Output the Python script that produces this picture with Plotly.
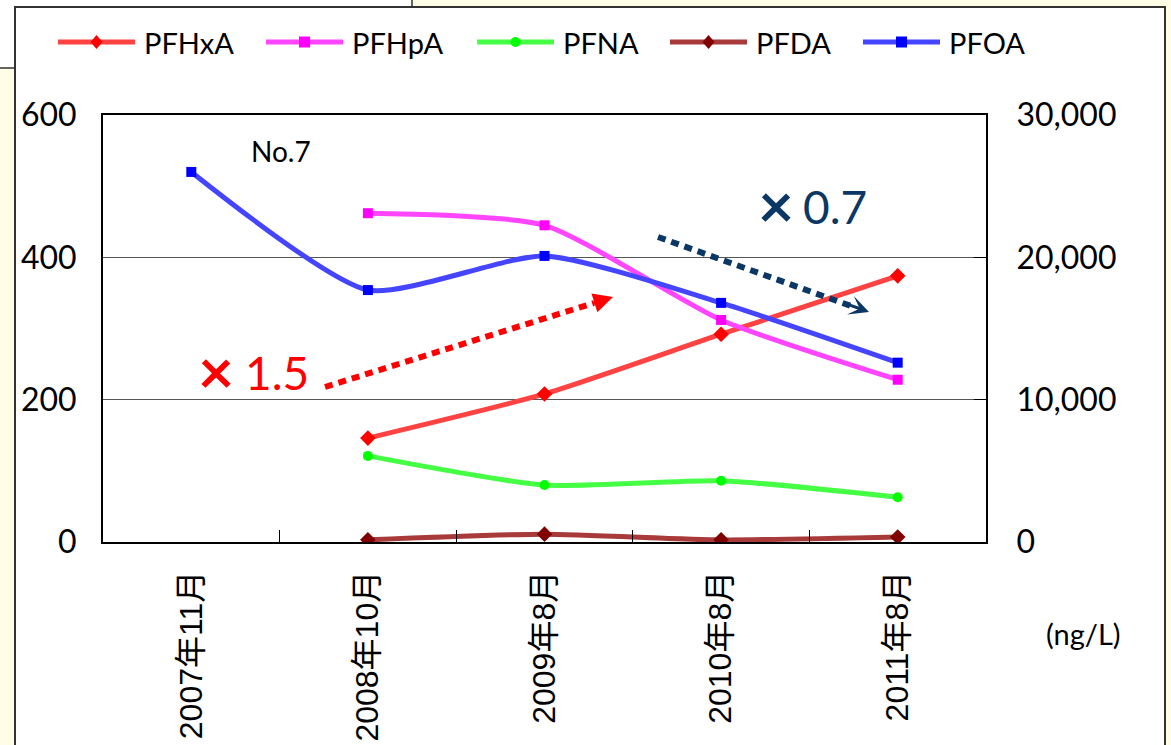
import plotly.graph_objects as go

# ---- data ----
categories = ["2007年11月", "2008年10月", "2009年8月", "2010年8月", "2011年8月"]
pfhxa = [None, 146, 208, 292, 374]
pfhpa = [None, 462, 445, 312, 228]
pfna = [None, 121, 80, 86, 63]
pfda = [None, 3, 11, 3, 7]
pfoa = [26000, 17700, 20100, 16800, 12600]
left_ticks = [0, 200, 400, 600]
right_ticks = [0, 10000, 20000, 30000]

# plot area in pixels (for paper-coordinate helpers)
L, R, T, B = 103, 986, 115, 542
W, H = 1171, 745


def px(x):
    return (x - L) / (R - L)


def py(y):
    return (B - y) / (B - T)


FONT = "Lato, 'Noto Sans CJK JP', sans-serif"
XFONT = "'Liberation Sans', Arial, 'Noto Sans CJK JP', sans-serif"

series = [
    ("PFHxA", pfhxa, "#FF4242", "#FF0000", "diamond", 12, "y"),
    ("PFHpA", pfhpa, "#FF45FF", "#FF00FF", "square", 10, "y"),
    ("PFNA", pfna, "#45FF45", "#00FF00", "circle", 10, "y"),
    ("PFDA", pfda, "#A83A3A", "#800000", "diamond", 12, "y"),
    ("PFOA", pfoa, "#4545FF", "#0000FF", "square", 10, "y2"),
]
legend_x = [58, 266, 477, 670, 863]   # left edge of each legend entry (px)
LEG_Y = 42

fig = go.Figure()
for name, vals, lc, mc, sym, ms, ax in series:
    fig.add_trace(go.Scatter(
        x=categories, y=vals, name=name, yaxis=ax,
        mode="lines+markers",
        line=dict(color=lc, width=5, shape="spline", smoothing=0.6),
        marker=dict(color=mc, symbol=sym, size=ms, line=dict(width=0)),
        connectgaps=False, showlegend=False,
    ))

shapes = [
    # background box at top-left (partially hidden)
    dict(type="rect", xref="paper", yref="paper", layer="below",
         x0=px(-10), x1=px(412), y0=py(68), y1=py(-10),
         fillcolor="white", line=dict(color="#333333", width=1.5)),
    # chart frame
    dict(type="rect", xref="paper", yref="paper", layer="below",
         x0=px(15), x1=px(1165), y0=py(770), y1=py(7),
         fillcolor="white", line=dict(color="#333333", width=2)),
    # red dotted trend arrow
    dict(type="line", xref="paper", yref="paper",
         x0=px(325), y0=py(387), x1=px(594), y1=py(303),
         line=dict(color="#FF0000", width=6, dash="8px,6px")),
    # navy dotted trend arrow
    dict(type="line", xref="paper", yref="paper",
         x0=px(658), y0=py(237), x1=px(851), y1=py(306),
         line=dict(color="#0B3765", width=6, dash="8px,6px")),
]

annotations = []

# ---- hand-drawn legend (long line samples like the original) ----
for (name, vals, lc, mc, sym, ms, ax), lx in zip(series, legend_x):
    cx = lx + 38.5
    shapes.append(dict(type="line", xref="paper", yref="paper",
                       x0=px(lx), x1=px(lx + 77), y0=py(LEG_Y), y1=py(LEG_Y),
                       line=dict(color=lc, width=5)))
    if sym == "diamond":
        path = "M {},{} L {},{} L {},{} L {},{} Z".format(
            px(cx), py(LEG_Y - 7), px(cx + 6), py(LEG_Y),
            px(cx), py(LEG_Y + 7), px(cx - 6), py(LEG_Y))
        shapes.append(dict(type="path", xref="paper", yref="paper", path=path,
                           fillcolor=mc, line=dict(width=0)))
    elif sym == "square":
        shapes.append(dict(type="rect", xref="paper", yref="paper",
                           x0=px(cx - 5.5), x1=px(cx + 5.5),
                           y0=py(LEG_Y + 5.5), y1=py(LEG_Y - 5.5),
                           fillcolor=mc, line=dict(width=0)))
    else:
        shapes.append(dict(type="circle", xref="paper", yref="paper",
                           x0=px(cx - 5), x1=px(cx + 5),
                           y0=py(LEG_Y + 5), y1=py(LEG_Y - 5),
                           fillcolor=mc, line=dict(width=0)))
    annotations.append(dict(text=name, x=px(lx + 84), y=py(LEG_Y),
                            xref="paper", yref="paper", xanchor="left",
                            yanchor="middle", showarrow=False,
                            font=dict(family=FONT, size=29, color="black")))

annotations += [
    dict(text="No.7", x=px(281), y=py(151), xref="paper", yref="paper",
         xanchor="center", yanchor="middle",
         showarrow=False, font=dict(family=FONT, size=28, color="black")),
    dict(text="<b>×</b>", x=px(216), y=py(370), xref="paper", yref="paper",
         xanchor="center", yanchor="middle",
         showarrow=False, font=dict(family=FONT, size=62, color="#FF0000")),
    dict(text="1.5", x=px(277), y=py(372), xref="paper", yref="paper",
         xanchor="center", yanchor="middle",
         showarrow=False, font=dict(family=FONT, size=46, color="#FF0000")),
    dict(text="<b>×</b>", x=px(776), y=py(204), xref="paper", yref="paper",
         xanchor="center", yanchor="middle",
         showarrow=False, font=dict(family=FONT, size=62, color="#0B3765")),
    dict(text="0.7", x=px(835), y=py(206), xref="paper", yref="paper",
         xanchor="center", yanchor="middle",
         showarrow=False, font=dict(family=FONT, size=46, color="#0B3765")),
    dict(text="(ng/L)", x=px(1083), y=py(633), xref="paper", yref="paper",
         xanchor="center", yanchor="middle",
         showarrow=False, font=dict(family=FONT, size=29, color="black")),
    # arrow heads
    dict(text="", x=px(613), y=py(297), xref="paper", yref="paper",
         ax=-22, ay=7, showarrow=True,
         arrowhead=2, arrowwidth=3, arrowsize=1.3, arrowcolor="#FF0000"),
    dict(text="", x=px(869), y=py(312), xref="paper", yref="paper",
         ax=-22, ay=-8, showarrow=True,
         arrowhead=3, arrowwidth=3, arrowsize=1.1, arrowcolor="#0B3765"),
]

fig.update_layout(
    width=W, height=H,
    margin=dict(l=L, r=W - R, t=T, b=H - B, pad=0, autoexpand=False),
    paper_bgcolor="#FFFDE6",
    plot_bgcolor="white",
    font=dict(family=FONT, size=30, color="black"),
    showlegend=False,
    xaxis=dict(
        type="category", categoryorder="array", categoryarray=categories,
        range=[-0.5, 4.5], automargin=False,
        showline=True, linecolor="black", linewidth=2, mirror=True,
        showgrid=False, ticks="inside", tickson="boundaries",
        ticklen=12, tickwidth=1, tickcolor="black",
        tickangle=-90, ticklabelstandoff=14,
        tickfont=dict(family=XFONT, size=32, color="black"),
        zeroline=False,
    ),
    yaxis=dict(
        range=[0, 600], tickvals=left_ticks, automargin=False,
        showline=True, linecolor="black", linewidth=2, mirror=True,
        showgrid=True, gridcolor="#555555", gridwidth=1,
        ticks="", ticklabelstandoff=18, zeroline=False,
        tickfont=dict(family=FONT, size=32, color="black"),
    ),
    yaxis2=dict(
        range=[0, 30000], tickvals=right_ticks, tickformat=",",
        overlaying="y", side="right", automargin=False,
        showline=True, linecolor="black", linewidth=2,
        showgrid=False, ticks="inside", ticklen=12, tickcolor="black",
        ticklabelstandoff=22, zeroline=False,
        tickfont=dict(family=FONT, size=32, color="black"),
    ),
    shapes=shapes,
    annotations=annotations,
)

fig.write_html("out.html", config={"displayModeBar": False},
               post_script="document.body.style.margin='0px';")
